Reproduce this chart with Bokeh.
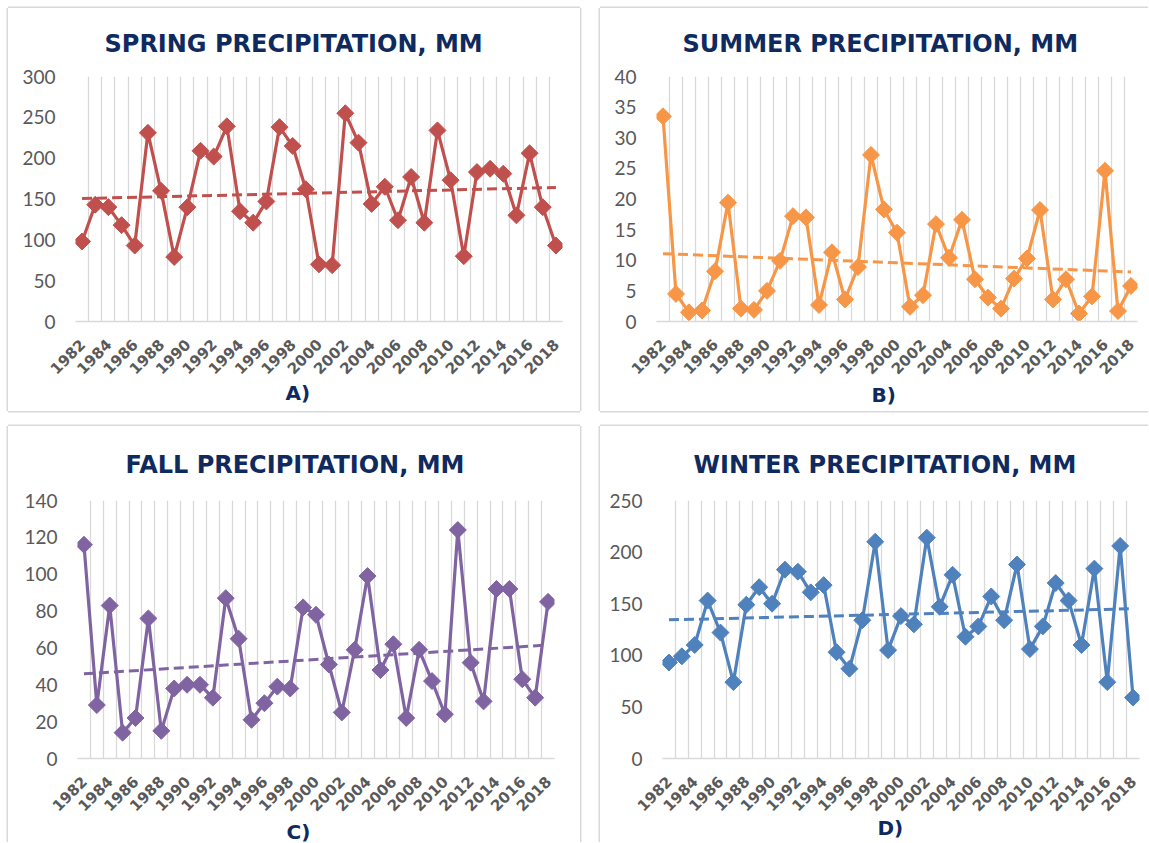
import numpy as np
from bokeh.plotting import figure
from bokeh.layouts import column, row, Spacer
from bokeh.models import Range1d, FixedTicker, Title
from bokeh.embed import file_html
from bokeh.resources import INLINE

years = list(range(1982, 2019))
year_ticks = list(range(1982, 2019, 2))

spring = [98, 143, 140, 118, 93, 231, 160, 79, 140, 209, 202, 239, 135, 121, 147, 238, 215, 162, 70,
          69, 255, 219, 144, 165, 124, 177, 121, 234, 173, 80, 183, 187, 181, 130, 206, 140, 93]
summer = [33.5, 4.5, 1.5, 1.8, 8.2, 19.4, 2.1, 1.9, 5.0, 9.9, 17.2, 17.0, 2.7, 11.3, 3.6, 8.9, 27.2,
          18.3, 14.5, 2.4, 4.3, 15.9, 10.4, 16.6, 6.9, 3.9, 2.1, 7.0, 10.3, 18.2, 3.6, 6.9, 1.3, 4.1,
          24.6, 1.7, 5.8]
fall = [116, 29, 83, 14, 22, 76, 15, 38, 40, 40, 33, 87, 65, 21, 30, 39, 38, 82, 78, 51, 25, 59, 99,
        48, 62, 22, 59, 42, 24, 124, 52, 31, 92, 92, 43, 33, 85]
winter = [93, 99, 110, 153, 122, 74, 149, 166, 150, 183, 181, 161, 168, 103, 87, 134, 210, 105, 138,
          130, 214, 147, 178, 118, 128, 157, 134, 188, 106, 128, 170, 153, 110, 184, 74, 206, 59]

NAVY = "#0E2A5E"
GRID = "#D9D9D9"
TICK = "#595959"


def make_panel(title, tag, values, color, ymax, ystep, w, h, bl, br, bt, bb,
               toff, tstand, tagoff, tagstand, xstand, sides):
    p = figure(width=w, height=h, output_backend="svg", toolbar_location=None,
               x_range=Range1d(1981.5, 2018.5), y_range=Range1d(0, ymax),
               min_border_left=bl, min_border_right=br, min_border_top=bt, min_border_bottom=bb,
               title=title)
    p.outline_line_color = None
    shadows = {"l": "-1.5px 0 0 0 #D9D9D9", "t": "0 -1.5px 0 0 #D9D9D9",
               "r": "1.5px 0 0 0 #D9D9D9", "b": "0 1.5px 0 0 #D9D9D9"}
    p.styles = {"box-shadow": ", ".join(shadows[s] for s in sides)}

    p.title.align = "left"
    p.title.text_font = "DejaVu Sans"
    p.title.text_font_style = "bold"
    p.title.text_font_size = "24px"
    p.title.text_color = NAVY
    p.title.offset = toff
    p.title.standoff = tstand

    p.add_layout(Title(text=tag, align="left", text_font="DejaVu Sans", text_font_style="bold",
                       text_font_size="20px", text_color=NAVY, offset=tagoff, standoff=tagstand), "below")

    p.xaxis.ticker = FixedTicker(ticks=year_ticks)
    p.xaxis.major_label_orientation = np.pi / 4
    p.xaxis.major_label_text_font = "DejaVu Sans"
    p.xaxis.major_label_text_font_style = "bold"
    p.xaxis.major_label_text_font_size = "15px"
    p.xaxis.major_label_text_color = TICK
    p.xaxis.axis_line_color = GRID
    p.xaxis.axis_line_width = 1.5
    p.xaxis.major_tick_line_color = None
    p.xaxis.minor_tick_line_color = None
    p.xaxis.major_tick_out = 0
    p.xaxis.major_tick_in = 0
    p.xaxis.major_label_standoff = xstand

    p.yaxis.ticker = FixedTicker(ticks=list(range(0, ymax + 1, ystep)))
    p.yaxis.major_label_text_font = "Lato"
    p.yaxis.major_label_text_font_size = "19px"
    p.yaxis.major_label_text_color = TICK
    p.yaxis.axis_line_color = None
    p.yaxis.major_tick_line_color = None
    p.yaxis.minor_tick_line_color = None
    p.yaxis.major_tick_out = 0
    p.yaxis.major_tick_in = 0
    p.yaxis.major_label_standoff = 20

    p.ygrid.grid_line_color = None
    p.xgrid.ticker = FixedTicker(ticks=[1981.5 + i for i in range(38)])
    p.xgrid.grid_line_color = GRID
    p.xgrid.grid_line_width = 1.3

    slope, icpt = np.polyfit(years, values, 1)
    tx = [years[0], years[-1]]
    ty = [slope * x + icpt for x in tx]
    p.line(tx, ty, line_color=color, line_width=3, line_dash="10 5")

    p.line(years, values, line_color=color, line_width=3.2, line_join="round")
    p.scatter(years, values, marker="square", angle=np.pi / 4, size=12,
              fill_color=color, line_color=color, line_width=1)
    return p


pa = make_panel("SPRING PRECIPITATION, MM", "A)", spring, "#C0504D", 300, 50,
                572, 403, 67, 18, 68, 90, 29, 38, 210, -7, 20, "ltrb")
pb = make_panel("SUMMER PRECIPITATION, MM", "B)", summer, "#F79646", 40, 5,
                548, 403, 56, 11, 68, 86, 26, 38, 215, -3, 20, "ltb")
pc = make_panel("FALL PRECIPITATION, MM", "C)", fall, "#8064A2", 140, 20,
                572, 416, 69, 26, 74, 84, 48, 44, 209, -4, 20, "ltr")
pd_ = make_panel("WINTER PRECIPITATION, MM", "D)", winter, "#4F81BD", 250, 50,
                 548, 416, 62, 9, 74, 76, 31, 44, 215, -12, 20, "lt")

layout = column(
    Spacer(height=8),
    row(Spacer(width=8), pa, Spacer(width=20), pb),
    Spacer(height=15),
    row(Spacer(width=8), pc, Spacer(width=20), pd_),
)

open("out.html", "w").write(file_html(layout, INLINE))
